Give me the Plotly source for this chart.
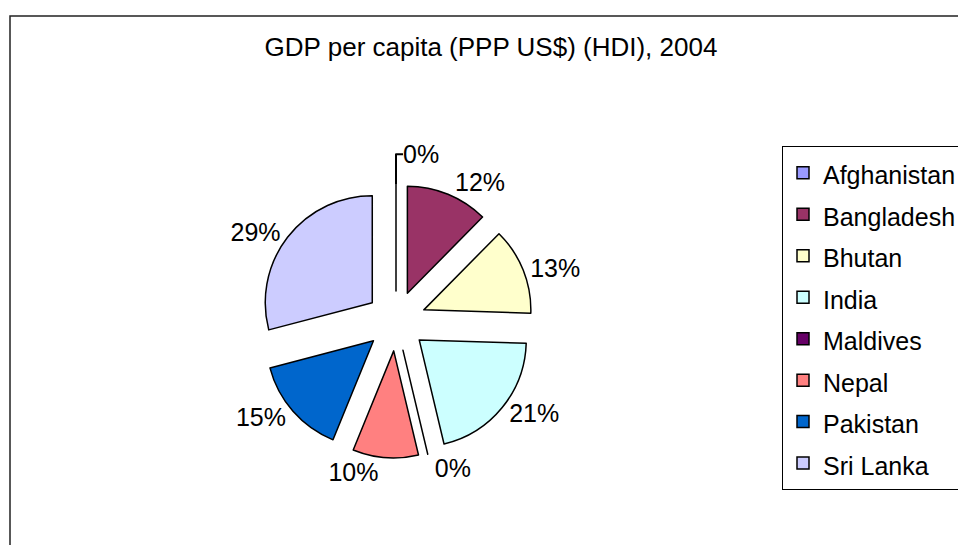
import plotly.graph_objects as go

title_text = "GDP per capita (PPP US$) (HDI), 2004"
countries = ["Afghanistan", "Bangladesh", "Bhutan", "India", "Maldives", "Nepal", "Pakistan", "Sri Lanka"]
gdp_share = [0, 12.4, 13.1, 20.8, 0, 9.9, 14.75, 29.1]
colors = ["#9999FF", "#993366", "#FFFFCC", "#CCFFFF", "#660066", "#FF8080", "#0066CC", "#CCCCFF"]

W, H = 958, 545
FONT = "Arial, 'Liberation Sans', sans-serif"

# legend entries rendered at 25px while the legend font size sets row spacing
legend_labels = ['<span style="font-size:25px">%s</span>' % c for c in countries]

# pie placement (pixels -> paper)
cx, cy, half = 396, 321, 137
dom_x = [(cx - half) / W, (cx + half) / W]
dom_y = [1 - (cy + half) / H, 1 - (cy - half) / H]

fig = go.Figure(
    go.Pie(
        labels=legend_labels,
        values=gdp_share,
        sort=False,
        direction="clockwise",
        rotation=0,
        pull=[0.28] * len(countries),
        marker=dict(colors=colors, line=dict(color="black", width=1.5)),
        textinfo="percent",
        texttemplate="%{percent:.0%}",
        textposition="outside",
        textfont=dict(family=FONT, size=25, color="black"),
        domain=dict(x=dom_x, y=dom_y),
        hoverinfo="skip",
    )
)

fig.update_layout(
    width=W,
    height=H,
    margin=dict(l=0, r=0, t=0, b=0, autoexpand=False),
    paper_bgcolor="white",
    plot_bgcolor="white",
    font=dict(family=FONT, color="black"),
    title=dict(
        text=title_text,
        font=dict(family=FONT, size=26, color="black"),
        x=491 / W,
        xanchor="center",
        xref="paper",
        y=1 - 47 / H,
        yanchor="middle",
        yref="container",
    ),
    showlegend=True,
    legend=dict(
        x=782 / W,
        y=1 - 146 / H,
        xanchor="left",
        yanchor="top",
        bgcolor="white",
        bordercolor="black",
        borderwidth=1,
        font=dict(family=FONT, size=29.6, color="black"),
        traceorder="normal",
    ),
    shapes=[
        dict(
            type="rect",
            xref="paper",
            yref="paper",
            x0=10 / W,
            x1=1.05,
            y0=-0.05,
            y1=1 - 16 / H,
            line=dict(color="#222222", width=1.5),
            fillcolor="rgba(0,0,0,0)",
            layer="below",
        )
    ],
)

fig.write_html(
    "out.html",
    config={"displayModeBar": False},
    post_script="document.body.style.margin='0px';document.body.style.overflow='hidden';",
)
